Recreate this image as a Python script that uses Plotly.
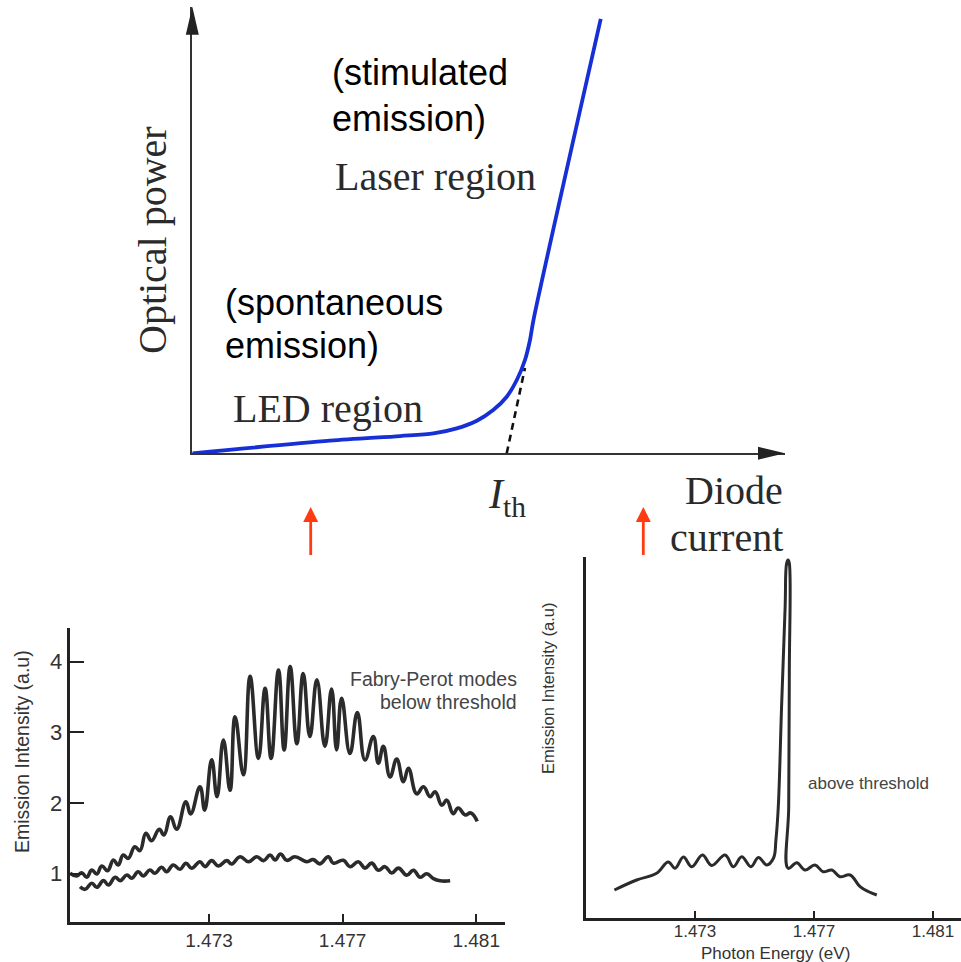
import plotly.graph_objects as go

W, H = 961, 962

# ---------------- L-I characteristic (arbitrary units, I_th = 1) ----------------
current = [0, 0.438, 0.661, 0.767, 0.841, 0.905, 0.957, 1.0, 1.032, 1.058, 1.074, 1.085, 1.299]
power = [0, 0.289, 0.397, 0.459, 0.574, 0.749, 0.995, 1.30, 1.684, 2.143, 2.603, 3.062, 9.98]
extrap_current = [1.0, 1.058]
extrap_power = [0, 1.96]
I_TH = 1.0
LI_XMAX, LI_YMAX = 1.885, 10.26

# ---------------- emission spectra ----------------
below_hi_E = [1.46884, 1.46904, 1.46919, 1.46934, 1.46949, 1.46964, 1.46979, 1.46996, 1.47014, 1.47028,
              1.47043, 1.47058, 1.47078, 1.47093, 1.47111, 1.47128, 1.47151, 1.47165, 1.47185, 1.47203,
              1.47231, 1.47245, 1.47273, 1.47287, 1.47308, 1.47324, 1.47343, 1.47363, 1.47378, 1.47403,
              1.47423, 1.47448, 1.47468, 1.47486, 1.47508, 1.47525, 1.47543, 1.47563, 1.47582, 1.47602,
              1.47623, 1.47647, 1.47667, 1.47682, 1.47697, 1.47722, 1.47744, 1.47767, 1.47792, 1.47807,
              1.47822, 1.47842, 1.47862, 1.47882, 1.47897, 1.47922, 1.47942, 1.47962, 1.47977, 1.47997,
              1.48012, 1.48031, 1.48046, 1.48067, 1.48084, 1.48103]
below_hi_I = [1.006, 0.968, 1.015, 0.95, 1.053, 0.996, 1.11, 1.043, 1.194, 1.124,
              1.265, 1.218, 1.382, 1.326, 1.572, 1.467, 1.628, 1.548, 1.806, 1.628,
              2.018, 1.845, 2.23, 1.90, 2.61, 2.09, 2.89, 2.18, 3.22, 2.40,
              3.79, 2.63, 3.62, 2.63, 3.88, 2.75, 3.93, 2.84, 3.83, 2.94,
              3.74, 2.80, 3.61, 2.75, 3.48, 2.70, 3.28, 2.61, 2.94, 2.56,
              2.80, 2.37, 2.62, 2.30, 2.49, 2.13, 2.23, 2.09, 2.16, 1.97,
              2.04, 1.85, 1.93, 1.83, 1.86, 1.74]

below_lo_E = [1.46914, 1.46929, 1.46949, 1.46964, 1.46984, 1.46999, 1.47019, 1.47034, 1.47054, 1.47069,
              1.47088, 1.47103, 1.47123, 1.47138, 1.47158, 1.47173, 1.47193, 1.47213, 1.47231, 1.47248,
              1.47273, 1.47288, 1.47308, 1.47328, 1.47353, 1.47368, 1.47393, 1.47418, 1.47443, 1.47463,
              1.47483, 1.47498, 1.47514, 1.47533, 1.47557, 1.47593, 1.47612, 1.47632, 1.47657, 1.47672,
              1.47702, 1.47722, 1.47747, 1.47767, 1.47787, 1.47807, 1.47827, 1.47847, 1.47867, 1.47892,
              1.47912, 1.47932, 1.47952, 1.47972, 1.47992, 1.48022]
below_lo_I = [0.817, 0.78, 0.865, 0.808, 0.902, 0.841, 0.95, 0.902, 0.982, 0.936,
              1.029, 0.968, 1.053, 1.006, 1.091, 1.029, 1.124, 1.063, 1.148, 1.077,
              1.17, 1.10, 1.185, 1.11, 1.185, 1.138, 1.241, 1.17, 1.241, 1.185,
              1.265, 1.194, 1.28, 1.19, 1.24, 1.17, 1.20, 1.14, 1.24, 1.15,
              1.19, 1.10, 1.17, 1.08, 1.15, 1.05, 1.10, 1.01, 1.08, 0.98,
              1.05, 0.95, 1.00, 0.93, 0.90, 0.90]

above_E = [1.47029, 1.47104, 1.47171, 1.47210, 1.47233, 1.47261, 1.47289, 1.47325, 1.47356, 1.47401,
           1.47429, 1.47457, 1.47488, 1.47513, 1.47541, 1.47564, 1.47572, 1.47580, 1.47591, 1.47603,
           1.47608, 1.47613, 1.47617, 1.47617, 1.47615, 1.47613, 1.47642, 1.47670, 1.47703, 1.47731,
           1.47760, 1.47787, 1.47821, 1.47855, 1.47882, 1.47911]
above_I = [0.786, 1.064, 1.25, 1.564, 1.389, 1.703, 1.433, 1.758, 1.467, 1.758,
           1.433, 1.711, 1.433, 1.689, 1.481, 1.675, 2.175, 3.10, 5.88, 8.66,
           9.86, 9.95, 9.86, 6.81, 3.10, 1.389, 1.544, 1.342, 1.481, 1.294,
           1.342, 1.156, 1.203, 0.878, 0.744, 0.647]

energy_ticks = [1.473, 1.477, 1.481]
energy_tick_text = ["1.473", "1.477", "1.481"]
intensity_ticks = [1, 2, 3, 4]
intensity_tick_text = ["1", "2", "3", "4"]

SERIF = "Liberation Serif"
SANS = "Liberation Sans"
AXIS_COLOR = "#222222"
TRACE_GRAY = "#2b2b2b"
BLUE = "rgb(22,48,214)"
RED = "#ff3b12"


def px(x, y):
    """pixel position on the page -> paper fraction"""
    return x / W, 1 - y / H


fig = go.Figure()

# L-I curve and threshold extrapolation
fig.add_trace(go.Scatter(x=current, y=power, mode="lines", xaxis="x", yaxis="y",
                         line=dict(color=BLUE, width=3.8, shape="spline", smoothing=0.8),
                         hoverinfo="skip"))
fig.add_trace(go.Scatter(x=extrap_current, y=extrap_power, mode="lines", xaxis="x", yaxis="y",
                         line=dict(color="#111111", width=2.6, dash="7px,5px"),
                         hoverinfo="skip"))

# spectra
fig.add_trace(go.Scatter(x=below_hi_E, y=below_hi_I, mode="lines", xaxis="x2", yaxis="y2",
                         line=dict(color=TRACE_GRAY, width=3.6, shape="spline", smoothing=1.3),
                         hoverinfo="skip"))
fig.add_trace(go.Scatter(x=below_lo_E, y=below_lo_I, mode="lines", xaxis="x2", yaxis="y2",
                         line=dict(color=TRACE_GRAY, width=3.6, shape="spline", smoothing=1.3),
                         hoverinfo="skip"))
fig.add_trace(go.Scatter(x=above_E, y=above_I, mode="lines", xaxis="x3", yaxis="y3",
                         line=dict(color=TRACE_GRAY, width=3.0, shape="spline", smoothing=1.1),
                         hoverinfo="skip"))

x0, _ = px(192.3, 0)
x1, _ = px(785, 0)
_, yb = px(0, 453.3)
_, yt = px(0, 6.7)

bl_x0, _ = px(69.5, 0)
bl_x1, _ = px(505, 0)
_, bl_yb = px(0, 921.7)
_, bl_yt = px(0, 628)

br_x0, _ = px(585.7, 0)
_, br_yb = px(0, 918.3)
_, br_yt = px(0, 557)

hidden = dict(showgrid=False, zeroline=False, showticklabels=False, ticks="")

fig.update_layout(
    width=W, height=H, autosize=False,
    margin=dict(l=0, r=0, t=0, b=0),
    paper_bgcolor="white", plot_bgcolor="white",
    showlegend=False,
    xaxis=dict(domain=[x0, x1], range=[0, LI_XMAX], anchor="y",
               showline=True, linecolor="#333333", linewidth=2.2, **hidden),
    yaxis=dict(domain=[yb, yt], range=[0, LI_YMAX], anchor="x",
               showline=True, linecolor="#333333", linewidth=2.2, **hidden),
    xaxis2=dict(domain=[bl_x0, bl_x1], range=[1.468823, 1.481862], anchor="y2",
                showline=True, linecolor=AXIS_COLOR, linewidth=2.6,
                showgrid=False, zeroline=False,
                tickvals=energy_ticks, ticktext=energy_tick_text,
                ticks="inside", ticklen=8, tickwidth=1.6, tickcolor=AXIS_COLOR,
                tickfont=dict(family=SANS, size=19, color="#333333")),
    yaxis2=dict(domain=[bl_yb, bl_yt], range=[0.322, 4.474], anchor="x2",
                showline=True, linecolor=AXIS_COLOR, linewidth=2.6,
                showgrid=False, zeroline=False,
                tickvals=intensity_ticks, ticktext=intensity_tick_text,
                ticks="inside", ticklen=15, tickwidth=2.4, tickcolor=AXIS_COLOR,
                tickfont=dict(family=SANS, size=22, color="#333333")),
    xaxis3=dict(domain=[br_x0, 1.0], range=[1.469326, 1.481941], anchor="y3",
                showline=True, linecolor=AXIS_COLOR, linewidth=2.6,
                showgrid=False, zeroline=False,
                tickvals=energy_ticks, ticktext=energy_tick_text,
                ticks="inside", ticklen=8, tickwidth=1.6, tickcolor=AXIS_COLOR,
                ticklabelstandoff=-5,
                tickfont=dict(family=SANS, size=17, color="#333333")),
    yaxis3=dict(domain=[br_yb, br_yt], range=[0, 10.036], anchor="x3",
                showline=True, linecolor=AXIS_COLOR, linewidth=2.6, **hidden),
)

# arrowheads on the L-I axes (pixel-sized paths anchored at the axis ends)
tip_x = px(785, 453.3)
tip_y = px(192.3, 6.7)
fig.add_shape(type="path", xref="paper", yref="paper", xsizemode="pixel", ysizemode="pixel",
              xanchor=tip_x[0], yanchor=tip_x[1], path="M 0 0 L -27 6.5 L -27 -6.5 Z",
              fillcolor="#222222", line=dict(width=0))
fig.add_shape(type="path", xref="paper", yref="paper", xsizemode="pixel", ysizemode="pixel",
              xanchor=tip_y[0], yanchor=tip_y[1], path="M 0 0 L -6.5 -28 L 6.5 -28 Z",
              fillcolor="#222222", line=dict(width=0))

# red arrows linking the regions of the L-I curve to the spectra
for ax_px in (310.7, 643.3):
    tip = px(ax_px, 507)
    tail = px(ax_px, 555)
    fig.add_shape(type="line", xref="paper", yref="paper",
                  x0=tail[0], y0=tail[1], x1=tip[0], y1=px(ax_px, 518)[1],
                  line=dict(color=RED, width=2.8))
    fig.add_shape(type="path", xref="paper", yref="paper", xsizemode="pixel", ysizemode="pixel",
                  xanchor=tip[0], yanchor=tip[1], path="M 0 0 L -7.5 -15 L 7.5 -15 Z",
                  fillcolor=RED, line=dict(width=0))

annotations = []


def label(text, x, y, size, family, color="black", xanchor="left", angle=0):
    ax, ay = px(x, y)
    annotations.append(dict(text=text, x=ax, y=ay, xref="paper", yref="paper",
                            xanchor=xanchor, yanchor="middle", showarrow=False,
                            textangle=angle,
                            font=dict(family=family, size=size, color=color)))


# L-I panel text
label("(stimulated", 330, 73, 36, SANS)
label("emission)", 330, 118, 36, SANS)
label("Laser region", 333, 176, 40, SERIF, color="#2a2a2a")
label("(spontaneous", 223, 302, 36, SANS)
label("emission)", 223, 345, 36, SANS)
label("LED region", 231, 408, 40, SERIF, color="#2a2a2a")
label("Optical power", 152, 240, 40, SERIF, color="#2a2a2a", xanchor="center", angle=-90)
label("Diode", 785, 490, 40, SERIF, color="#2a2a2a", xanchor="right")
label("current", 785, 537, 40, SERIF, color="#2a2a2a", xanchor="right")
annotations.append(dict(text="<i>I</i><sub>th</sub>", x=I_TH, y=0, xref="x", yref="y",
                        xanchor="center", yanchor="top", yshift=-16, showarrow=False,
                        font=dict(family=SERIF, size=42, color="#2a2a2a")))

# spectrum panel text
label("Emission Intensity (a.u)", 22, 752, 19.5, SANS, color="#333333", xanchor="center", angle=-90)
label("Fabry-Perot modes", 519, 679, 19.5, SANS, color="#444444", xanchor="right")
label("below threshold", 519, 702, 19.5, SANS, color="#444444", xanchor="right")
label("Emission Intensity (a.u)", 548, 689, 16.5, SANS, color="#333333", xanchor="center", angle=-90)
label("above threshold", 806, 783, 17, SANS, color="#444444")
label("Photon Energy (eV)", 775, 953, 17, SANS, color="#333333", xanchor="center")

fig.update_layout(annotations=annotations)

fig.write_html("out.html")
